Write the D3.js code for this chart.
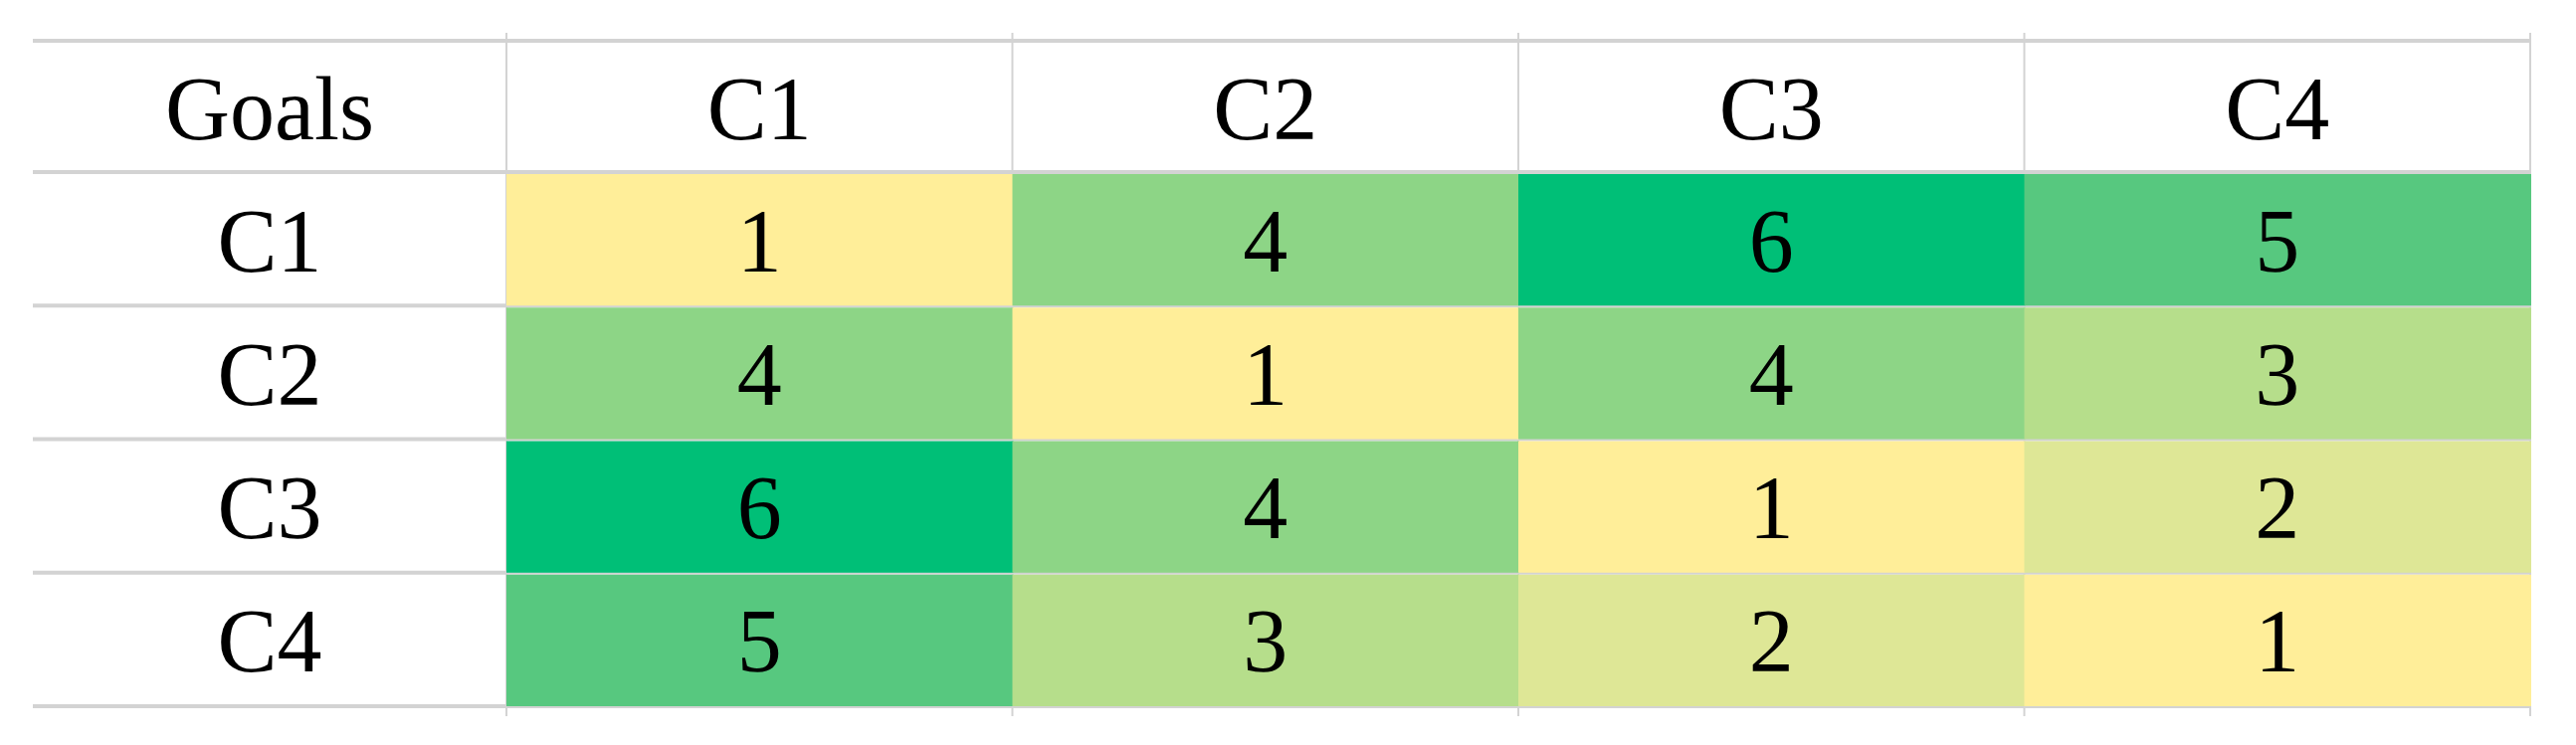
<!DOCTYPE html>
<html><head><meta charset="utf-8">
<script src="https://cdn.jsdelivr.net/npm/d3@7"></script>
<style>body{margin:0;background:#fff}</style></head>
<body><svg id="c" width="2589" height="749"></svg>
<script>
const rows = ["C1","C2","C3","C4"];
const cols = ["C1","C2","C3","C4"];
const values = [[1,4,6,5],[4,1,4,3],[6,4,1,2],[5,3,2,1]];
const headerLabel = "Goals";
const palette = ["#FFEE99","#DEE796","#B6DE8B","#8DD586","#57C87F","#00BF77"];

const svg = d3.select("#c");
const mLeft = 33, labelW = 476, mRight = 2543, mTop = 41, headH = 132, mBottom = 710;
const x = d3.scaleBand().domain(cols).range([mLeft+labelW, mRight]);
const y = d3.scaleBand().domain(rows).range([mTop+headH, mBottom]);
const color = d3.scaleOrdinal().domain([1,2,3,4,5,6]).range(palette);
const grid = "#d3d3d3";

const hy = [mTop, ...rows.map(r=>y(r)), mBottom];
svg.selectAll("line.h").data(hy).join("line").attr("class","h")
  .attr("x1",mLeft).attr("x2",mRight).attr("y1",d=>d).attr("y2",d=>d)
  .attr("stroke",grid).attr("stroke-width",4);
const vx = [mLeft+labelW, ...cols.slice(1).map(c=>x(c)), mRight];
svg.selectAll("line.v").data(vx).join("line").attr("class","v")
  .attr("x1",d=>d).attr("x2",d=>d).attr("y1",mTop-8).attr("y2",mBottom+10)
  .attr("stroke",grid).attr("stroke-width",2);

const cells = [];
rows.forEach((r,i)=>cols.forEach((c,j)=>cells.push({r,c,v:values[i][j]})));
svg.selectAll("rect.cell").data(cells).join("rect").attr("class","cell")
  .attr("x",d=>x(d.c)).attr("y",d=>y(d.r)+2)
  .attr("width",x.bandwidth()+1).attr("height",y.bandwidth()-2)
  .attr("fill",d=>color(d.v));

const font = "'Liberation Serif','Times New Roman',serif";
const fs = 90;
function txt(sel){return sel.attr("font-family",font).attr("font-size",fs).attr("fill","#000")
  .attr("text-anchor","middle").attr("dominant-baseline","central");}
svg.selectAll("text.cv").data(cells).join("text").attr("class","cv")
  .attr("x",d=>x(d.c)+x.bandwidth()/2).attr("y",d=>y(d.r)+y.bandwidth()/2+2)
  .text(d=>d.v).call(txt);
svg.selectAll("text.ch").data(cols).join("text").attr("class","ch")
  .attr("x",d=>x(d)+x.bandwidth()/2).attr("y",mTop+headH/2+2).text(d=>d).call(txt);
svg.selectAll("text.rh").data(rows).join("text").attr("class","rh")
  .attr("x",mLeft+labelW/2).attr("y",d=>y(d)+y.bandwidth()/2+2).text(d=>d).call(txt);
svg.append("text").attr("x",mLeft+labelW/2).attr("y",mTop+headH/2+2).text(headerLabel).call(txt);
</script></body></html>
